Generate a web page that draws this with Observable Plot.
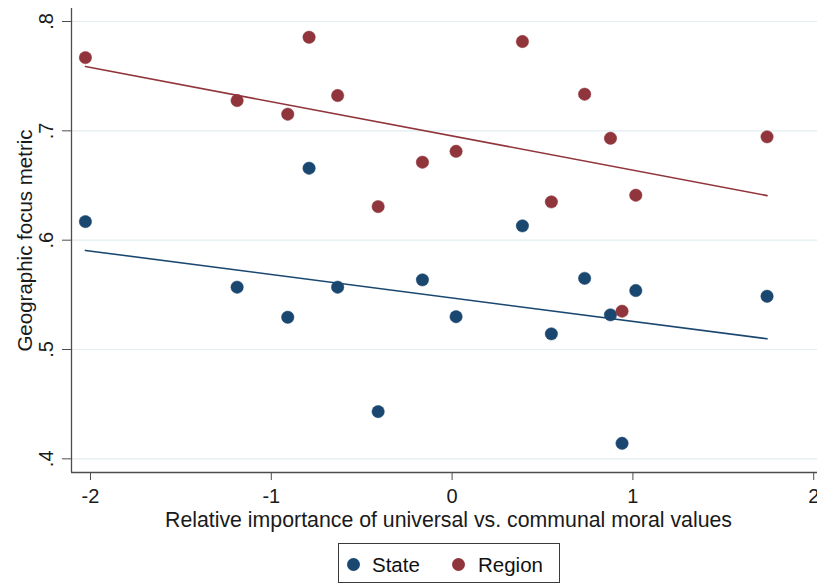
<!DOCTYPE html>
<html>
<head>
<meta charset="utf-8">
<script src="https://cdn.jsdelivr.net/npm/d3@7"></script>
<script src="https://cdn.jsdelivr.net/npm/@observablehq/plot@0.6"></script>
<style>
  html, body { margin: 0; padding: 0; background: #fff; }
  body { width: 817px; height: 583px; overflow: hidden; position: relative; font-family: "Liberation Sans", Arial, Helvetica, sans-serif; }
  #legend { position: absolute; left: 338px; top: 543px; width: 222px; height: 40px; box-sizing: border-box; border: 1px solid #3a3a3a; background: #fff; font-size: 20.5px; color: #111; }
  #legend .dot { position: absolute; width: 13px; height: 13px; border-radius: 50%; }
  #legend .lab { position: absolute; line-height: 20px; white-space: nowrap; }
</style>
</head>
<body>
<div id="chart"></div>
<div id="legend"></div>
<script>
// ---- data ----
const moralScores = [-2.028, -1.189, -0.909, -0.791, -0.633, -0.409, -0.164, 0.022, 0.389, 0.549, 0.733, 0.876, 1.016, 1.742, 0.940];
const stateFocus  = [0.617, 0.557, 0.5295, 0.6658, 0.557, 0.4432, 0.5637, 0.530, 0.6131, 0.5143, 0.5651, 0.5317, 0.5539, 0.5487, 0.4142];
const regionFocus = [0.767, 0.7277, 0.7152, 0.7856, 0.7323, 0.6307, 0.6713, 0.6813, 0.7817, 0.635, 0.7335, 0.6932, 0.6411, 0.6945, 0.535];
const seriesNames = ["State", "Region"];
const seriesColors = ["#1a476f", "#90353b"];
const xTicks = [-2, -1, 0, 1, 2];
const yTicks = [0.4, 0.5, 0.6, 0.7, 0.8];
const yTickLabels = [".4", ".5", ".6", ".7", ".8"];
const xTitle = "Relative importance of universal vs. communal moral values";
const yTitle = "Geographic focus metric";

const xDomain = [-2.105, 2.021];
const yDomain = [0.3875, 0.8119];

const rows = [
  ...moralScores.map((x, i) => ({x, y: stateFocus[i], series: "State"})),
  ...moralScores.map((x, i) => ({x, y: regionFocus[i], series: "Region"}))
];
const yLabelRows = yTicks.map((v, i) => ({v, label: yTickLabels[i]}));

const font = "Liberation Sans, Arial, Helvetica, sans-serif";
const axisColor = "#4d4d4d";

const chart = Plot.plot({
  width: 817,
  height: 540,
  marginLeft: 71,
  marginRight: 0,
  marginTop: 8,
  marginBottom: 68,
  style: {fontFamily: font, background: "#fff", color: "#1a1a1a"},
  x: {domain: xDomain, axis: null},
  y: {domain: yDomain, axis: null},
  color: {domain: seriesNames, range: seriesColors},
  marks: [
    Plot.gridY(yTicks, {stroke: "#e2ebef", strokeOpacity: 1, strokeWidth: 1.2}),
    // axis lines
    Plot.ruleX([xDomain[0]], {stroke: axisColor, strokeWidth: 1.3}),
    Plot.ruleY([yDomain[0]], {stroke: axisColor, strokeWidth: 1.3}),
    // x axis ticks + labels
    Plot.axisX(xTicks, {
      tickSize: 8, tickPadding: 8, fontSize: 20, stroke: axisColor, fill: "#1a1a1a",
      tickFormat: d => String(d), label: null
    }),
    // y axis ticks (labels drawn separately, rotated)
    Plot.axisY(yTicks, {tickSize: 9, stroke: axisColor, tickFormat: () => null, label: null}),
    Plot.text(yLabelRows, {
      y: "v", text: "label", frameAnchor: "left", dx: -25, rotate: -90,
      fontSize: 20, fill: "#1a1a1a", textAnchor: "middle"
    }),
    // axis titles
    Plot.text([yTitle], {
      text: d => d, frameAnchor: "left", dx: -46, rotate: -90, fontSize: 20.5,
      fill: "#1a1a1a", textAnchor: "middle"
    }),
    Plot.text([xTitle], {
      text: d => d, frameAnchor: "bottom", dx: 4, dy: 39, lineAnchor: "top",
      fontSize: 21.3, fill: "#1a1a1a", textAnchor: "middle"
    }),
    // points
    Plot.dot(rows.filter(d => d.series === "State"), {x: "x", y: "y", r: 6.2, fill: "series", stroke: "series", strokeWidth: 0.5}),
    Plot.dot(rows.filter(d => d.series === "Region"), {x: "x", y: "y", r: 6.2, fill: "series", stroke: "series", strokeWidth: 0.5}),
    // linear fits
    Plot.linearRegressionY(rows, {x: "x", y: "y", stroke: "series", ci: 0, strokeWidth: 1.6})
  ]
});
document.getElementById("chart").appendChild(chart);

// legend (below the svg)
const legend = document.getElementById("legend");
const legendPos = [{dot: 8, text: 33}, {dot: 113, text: 139}];
seriesNames.forEach((name, i) => {
  const dot = document.createElement("span");
  dot.className = "dot";
  dot.style.left = legendPos[i].dot + "px";
  dot.style.top = "14px";
  dot.style.background = seriesColors[i];
  legend.appendChild(dot);
  const lab = document.createElement("span");
  lab.className = "lab";
  lab.style.left = legendPos[i].text + "px";
  lab.style.top = "11px";
  lab.textContent = name;
  legend.appendChild(lab);
});
</script>
</body>
</html>
